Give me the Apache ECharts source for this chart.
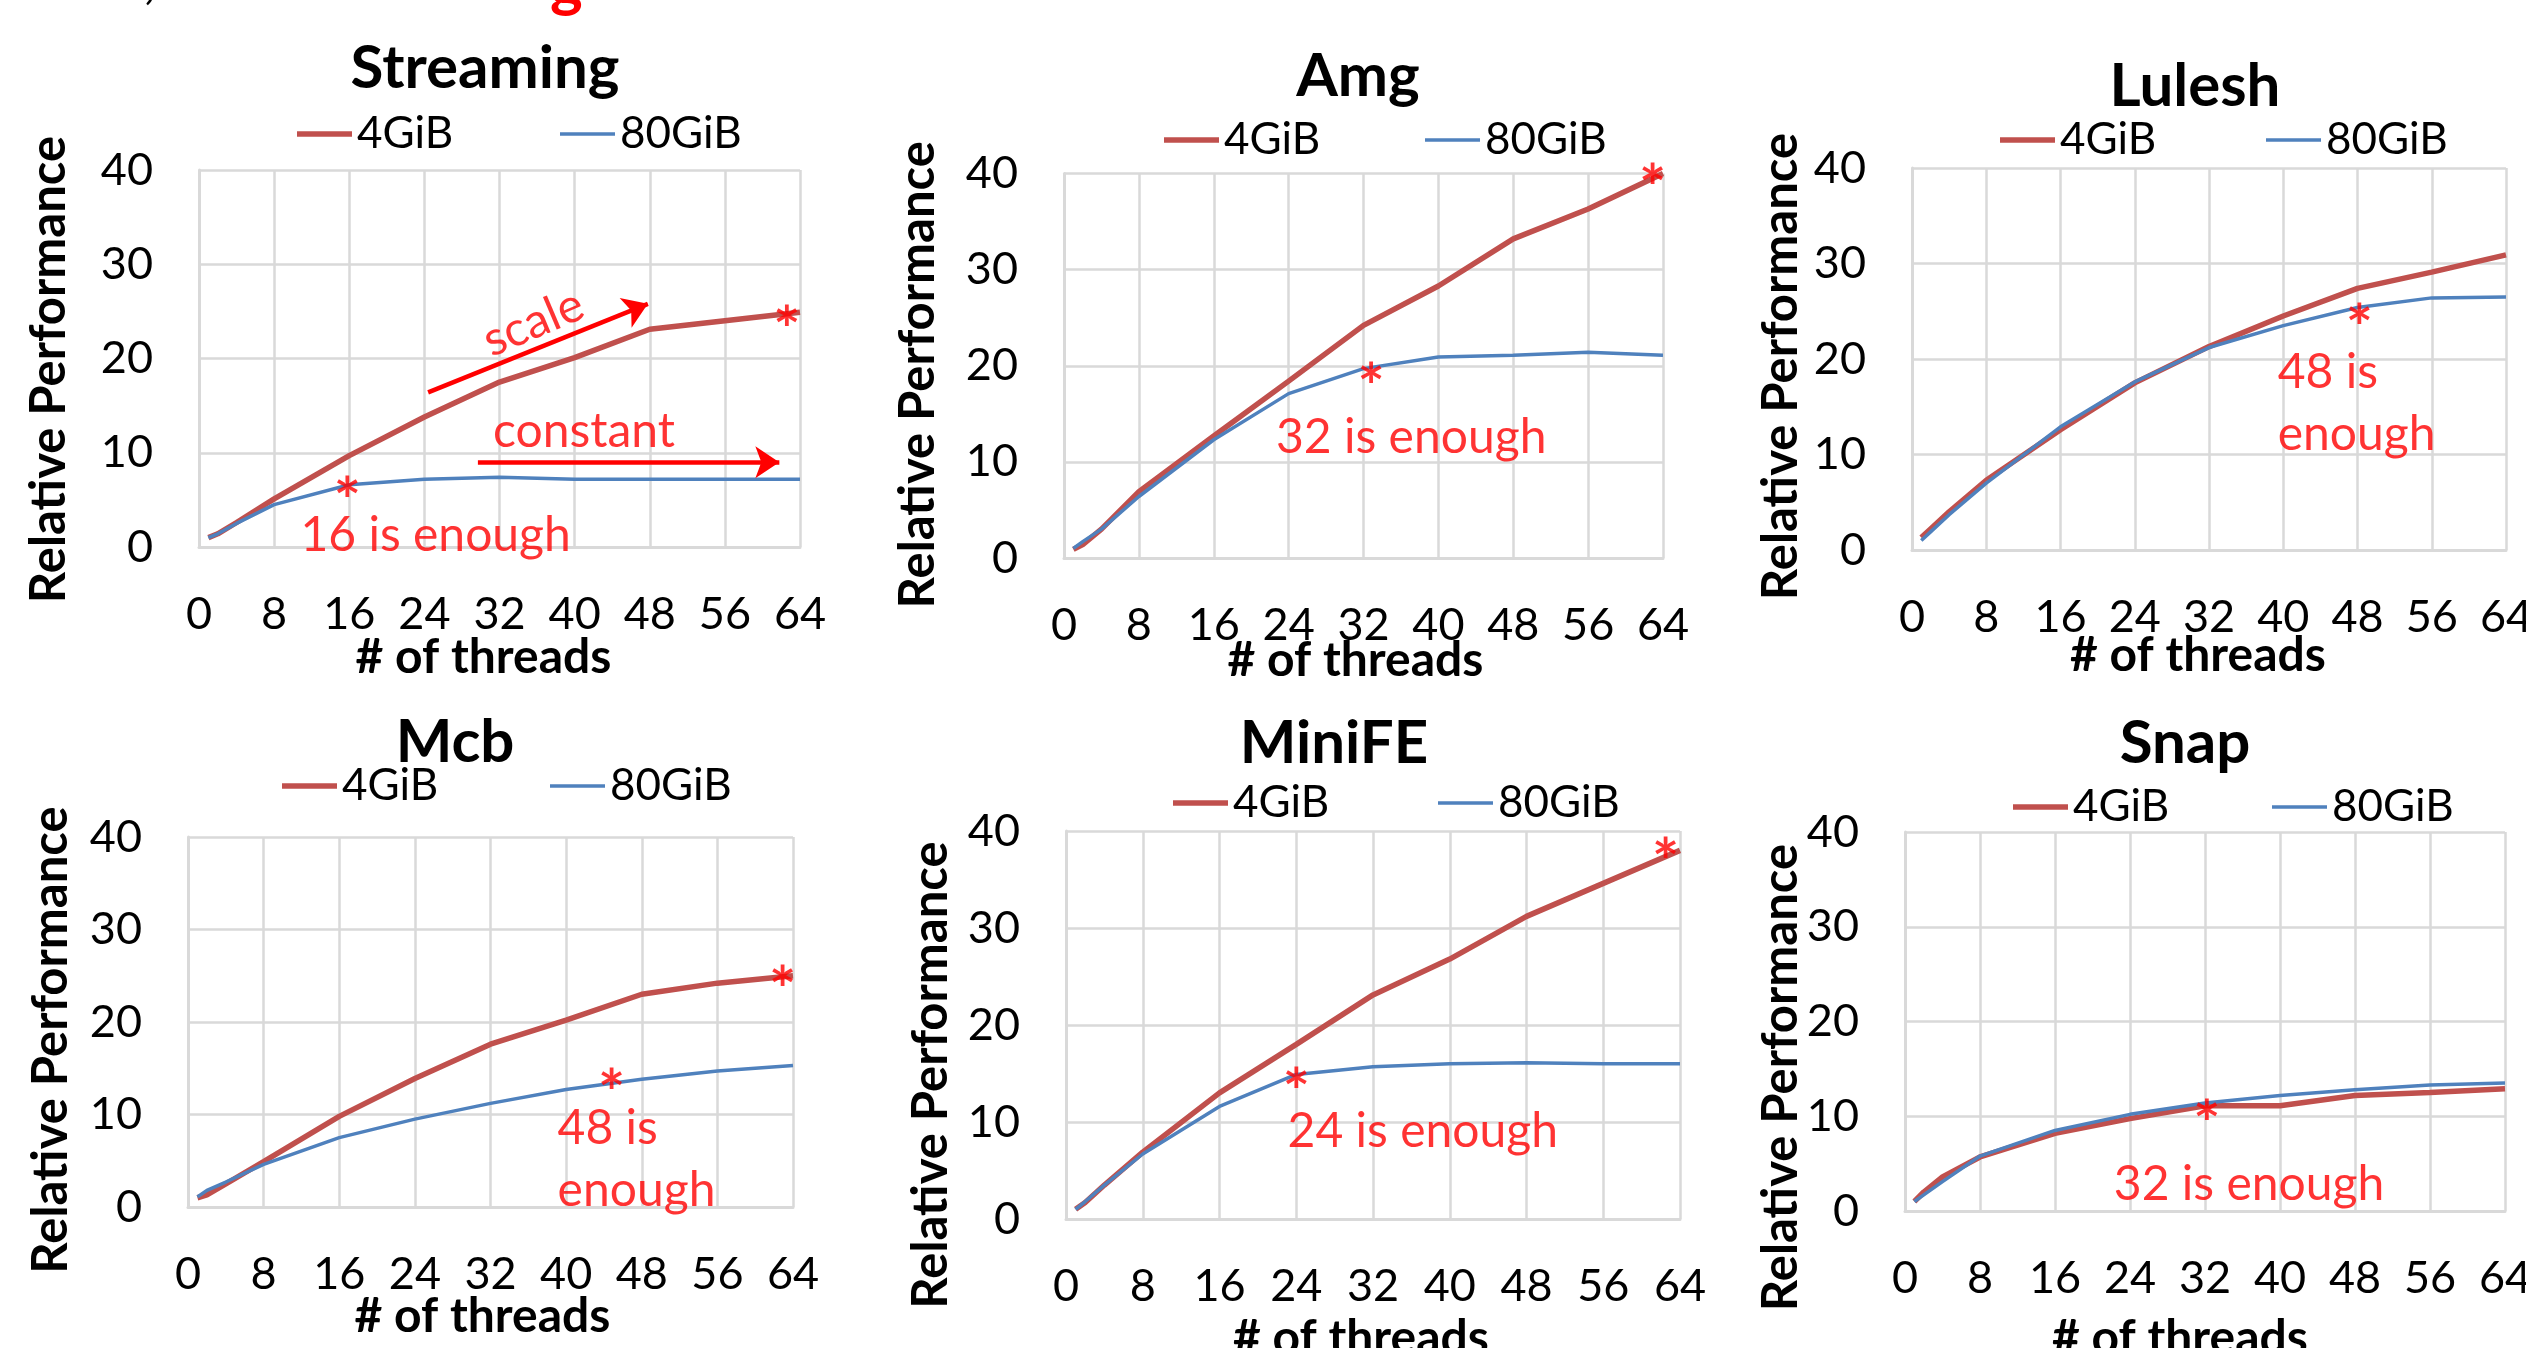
<!DOCTYPE html>
<html><head><meta charset="utf-8">
<script src="https://cdn.jsdelivr.net/npm/echarts@6/dist/echarts.min.js"></script>
<style>html,body{margin:0;padding:0;background:#fff}#c{width:2526px;height:1348px}</style>
</head><body><div id="c"></div>
<script>
// ---------------- data ----------------
const threads = [1, 2, 4, 8, 16, 24, 32, 40, 48, 56, 64];
const xTicks = [0, 8, 16, 24, 32, 40, 48, 56, 64];
const yTicks = [0, 10, 20, 30, 40];
const seriesNames = ['4GiB', '80GiB'];
const panelTitles = ['Streaming', 'Amg', 'Lulesh', 'Mcb', 'MiniFE', 'Snap'];

const streaming4  = [1.0, 1.4, 2.6, 5.1, 9.7, 13.8, 17.5, 20.1, 23.1, 24.0, 24.9];
const streaming80 = [1.0, 1.4, 2.5, 4.5, 6.6, 7.2, 7.4, 7.2, 7.2, 7.2, 7.2];
const amg4        = [0.9, 1.4, 3.0, 6.9, 12.7, 18.4, 24.2, 28.3, 33.2, 36.3, 40.0];
const amg80       = [1.0, 1.7, 3.0, 6.4, 12.3, 17.1, 19.7, 20.9, 21.1, 21.4, 21.1];
const lulesh4     = [1.3, 2.2, 4.0, 7.3, 12.6, 17.5, 21.3, 24.5, 27.4, 29.1, 30.9];
const lulesh80    = [1.0, 1.9, 3.7, 7.0, 12.9, 17.6, 21.2, 23.5, 25.4, 26.4, 26.5];
const mcb4        = [1.0, 1.3, 2.5, 4.9, 9.8, 13.9, 17.6, 20.2, 23.0, 24.2, 25.0];
const mcb80       = [1.1, 1.8, 2.7, 4.6, 7.5, 9.5, 11.2, 12.7, 13.8, 14.7, 15.3];
const minife4     = [1.0, 1.7, 3.5, 6.9, 13.0, 18.0, 23.1, 26.8, 31.2, 34.6, 38.0];
const minife80    = [1.0, 1.8, 3.5, 6.7, 11.6, 14.9, 15.7, 16.0, 16.1, 16.0, 16.0];
const snap4       = [1.0, 2.0, 3.6, 5.7, 8.2, 9.75, 11.1, 11.1, 12.2, 12.5, 12.9];
const snap80      = [1.0, 1.7, 3.1, 5.8, 8.5, 10.2, 11.4, 12.2, 12.8, 13.3, 13.5];

const values4  = [streaming4, amg4, lulesh4, mcb4, minife4, snap4];
const values80 = [streaming80, amg80, lulesh80, mcb80, minife80, snap80];

// annotation anchors (data coordinates)
const noteTexts = [
  ['16 is enough', 'scale', 'constant'],
  ['32 is enough'],
  ['48 is\nenough'],
  ['48 is\nenough'],
  ['24 is enough'],
  ['32 is enough']
];
const noteAt = [
  [[25.2, 1.2], [35.6, 23.8], [41.0, 12.2]],
  [[37.1, 12.5]],
  [[39.4, 15.3]],
  [[39.1, 5.15]],
  [[23.1, 9.0]],
  [[36.7, 2.77]]
];
const noteAlign = [
  ['center', 'center', 'center'], ['center'], ['left'], ['left'], ['left'], ['center']
];
const noteRotate = [[0, 23, 0], [0], [0], [0], [0], [0]];
const stars = [
  [[15.8, 6.3], [62.6, 24.5]],
  [[32.8, 19.2], [62.9, 39.9]],
  [[48.2, 24.7], [64.6, 30.9]],
  [[44.8, 13.8], [62.9, 24.9]],
  [[24.0, 14.5], [62.5, 38.2]],
  [[32.2, 10.65]]
];
const arrows = [
  [[[24.4, 16.4], [47.8, 25.8]], [[29.7, 9.0], [61.8, 9.0]]],
  [], [], [], [], []
];

// ---------------- layout ----------------
const FONT = 'Lato, "Open Sans", sans-serif';
const RED = '#C0504D', BLUE = '#4F81BD', NOTE = '#FF0000', GRIDC = '#D9D9D9';
const layout = [
  {grid:{left:199, top:170, width:601, height:377},      tx:485,  tt:39,  ly:134, lx:[297,560],   xg:87,  xs:-16, yg:125, ys:11},
  {grid:{left:1064, top:173.5, width:599, height:384.5}, tx:1358, tt:47,  ly:140, lx:[1164,1425], xg:79,  xs:-8,  yg:121, ys:9},
  {grid:{left:1912, top:168, width:594, height:382},     tx:2195, tt:57,  ly:140, lx:[2000,2266], xg:82,  xs:-11, yg:106, ys:7.5},
  {grid:{left:188, top:837, width:605, height:370},      tx:455,  tt:713, ly:786, lx:[282,550],   xg:86,  xs:-8,  yg:112, ys:18},
  {grid:{left:1066, top:831, width:614, height:388},     tx:1334, tt:714, ly:803, lx:[1173,1438], xg:96,  xs:-12, yg:110, ys:50},
  {grid:{left:1905, top:832, width:600, height:379},     tx:2185, tt:714, ly:807, lx:[2013,2272], xg:104, xs:-25, yg:99,  ys:56}
];

const chart = echarts.init(document.getElementById('c'), null, {renderer:'canvas'});
const option = {
  animation: false,
  backgroundColor: '#fff',
  title: [], legend: [], grid: [], xAxis: [], yAxis: [], series: [],
  graphic: [
    {type:'text', left:143, top:-52, style:{text:',', font:'60px ' + FONT, fill:'#000'}},
    {type:'text', left:550, top:-46, style:{text:'g', font:'bold 62px ' + FONT, fill:'#FF0000'}}
  ]
};

layout.forEach((L, i) => {
  option.grid.push(Object.assign({containLabel:false, outerBoundsMode:'none', show:false}, L.grid));
  option.title.push({
    text: panelTitles[i], left: L.tx, top: L.tt, textAlign: 'center', padding: 0,
    textStyle: {fontFamily: FONT, fontSize: 60, fontWeight: 'bold', color: '#000', lineHeight: 60}
  });
  const lineW = [5.5, 3.5];
  seriesNames.forEach((nm, k) => {
    option.legend.push({
      left: L.lx[k], top: L.ly - 22, padding: 0, itemGap: 0,
      itemWidth: 55, itemHeight: lineW[k], selectedMode: false,
      data: [{name: nm, icon: 'rect'}],
      textStyle: {fontFamily: FONT, fontSize: 44, color: '#000', lineHeight: 44}
    });
  });
  option.xAxis.push({
    type: 'value', gridIndex: i,
    min: xTicks[0], max: xTicks[xTicks.length - 1], interval: xTicks[1] - xTicks[0],
    axisLine: {show: true, onZero: false, lineStyle: {color: GRIDC, width: 3}},
    axisTick: {show: false},
    splitLine: {show: true, lineStyle: {color: GRIDC, width: 2.5}},
    axisLabel: {fontFamily: FONT, fontSize: 45, color: '#000', margin: 45},
    name: '# of threads', nameLocation: 'middle', nameGap: L.xg, nameMoveOverlap: false,
    nameTextStyle: {fontFamily: FONT, fontSize: 48, fontWeight: 'bold', color: '#000', lineHeight: 48,
      padding: L.xs < 0 ? [0, -2 * L.xs, 0, 0] : [0, 0, 0, 2 * L.xs]}
  });
  option.yAxis.push({
    type: 'value', gridIndex: i,
    min: yTicks[0], max: yTicks[yTicks.length - 1], interval: yTicks[1] - yTicks[0],
    axisLine: {show: true, lineStyle: {color: GRIDC, width: 3}},
    axisTick: {show: false},
    splitLine: {show: true, lineStyle: {color: GRIDC, width: 2.5}},
    axisLabel: {fontFamily: FONT, fontSize: 45, color: '#000', margin: 46},
    name: 'Relative Performance', nameLocation: 'middle', nameGap: L.yg, nameMoveOverlap: false,
    nameTextStyle: {fontFamily: FONT, fontSize: 49, fontWeight: 'bold', color: '#000', lineHeight: 49,
      padding: [0, 2 * L.ys, 0, 0]}
  });
  [values4[i], values80[i]].forEach((vals, k) => {
    option.series.push({
      type: 'line', name: seriesNames[k], xAxisIndex: i, yAxisIndex: i,
      data: threads.map((t, j) => [t, vals[j]]),
      symbol: 'none', smooth: false, z: 2 + k,
      lineStyle: {color: k ? BLUE : RED, width: lineW[k]},
      itemStyle: {color: k ? BLUE : RED}
    });
  });
  const ser = {
    type: 'scatter', name: 'notes' + i, xAxisIndex: i, yAxisIndex: i, silent: true, z: 6,
    symbolSize: 1, itemStyle: {color: 'rgba(0,0,0,0)'},
    label: {show: true, position: 'inside', color: NOTE, fontFamily: FONT, fontSize: 48, lineHeight: 62},
    data: noteAt[i].map((p, j) => ({
      value: p,
      label: {formatter: noteTexts[i][j], align: noteAlign[i][j], rotate: noteRotate[i][j]}
    }))
  };
  if (arrows[i].length) {
    ser.markLine = {
      silent: true, symbol: ['none', 'arrow'], symbolSize: 24,
      label: {show: false},
      lineStyle: {color: NOTE, width: 4.5, type: 'solid'},
      emphasis: {disabled: true},
      data: arrows[i].map(a => [{coord: a[0]}, {coord: a[1]}])
    };
  }
  option.series.push(ser);
  option.series.push({
    type: 'scatter', name: 'stars' + i, xAxisIndex: i, yAxisIndex: i, silent: true, z: 7,
    symbolSize: 1, itemStyle: {color: 'rgba(0,0,0,0)'},
    label: {show: true, position: 'inside', formatter: '*', color: NOTE, fontFamily: FONT,
      fontSize: 64, fontWeight: 'bold', offset: [0, 16]},
    data: stars[i]
  });
});

chart.setOption(option);
</script>
</body></html>
